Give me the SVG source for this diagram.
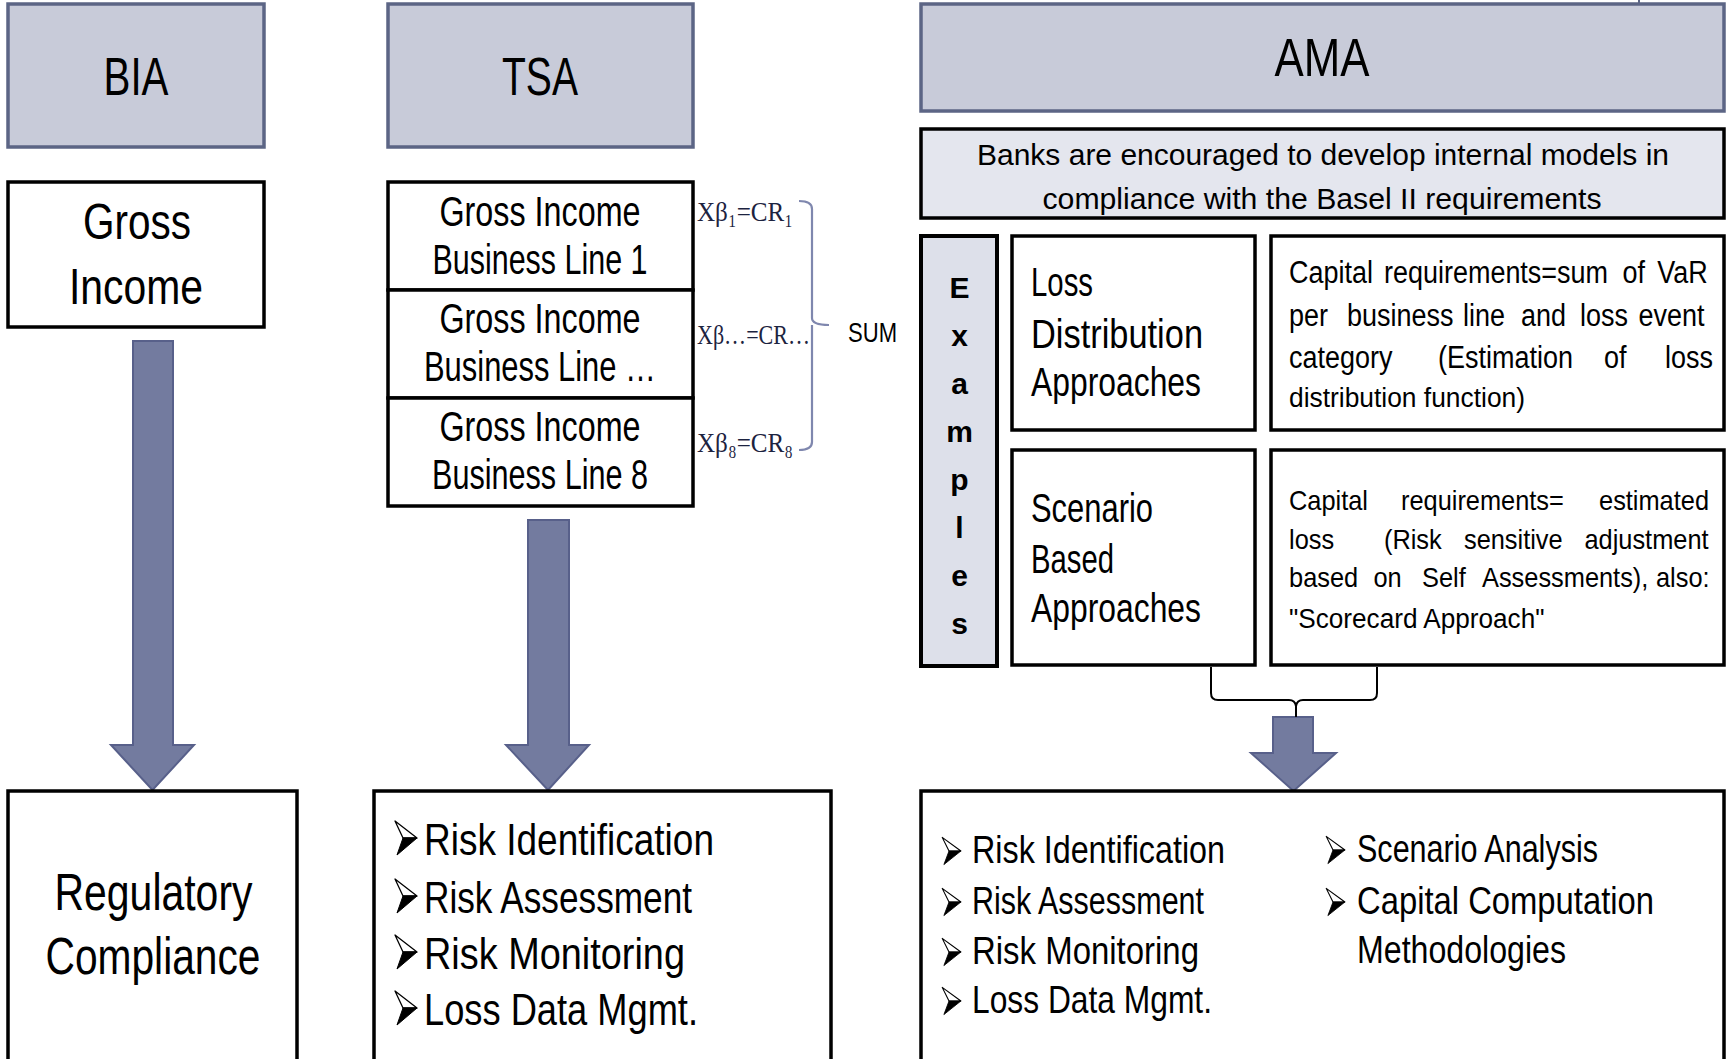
<svg xmlns="http://www.w3.org/2000/svg" xmlns:xlink="http://www.w3.org/1999/xlink" width="1727" height="1059" viewBox="0 0 1727 1059">
<defs>
<style>
.hdr{fill:#c8cbd9;stroke:#5c6585;stroke-width:3.5}
.box{fill:#ffffff;stroke:#000000;stroke-width:3.5}
.lt{fill:#e4e6ee;stroke:#000000;stroke-width:3.5}
.t{font-family:"Liberation Sans",Arial,sans-serif;fill:#000000}
.c{text-anchor:middle}
.ser{font-family:"Liberation Serif","Times New Roman","DejaVu Serif",serif;fill:#1c2340}
.arr{fill:#737b9f;stroke:#58608a;stroke-width:2}
.brace{fill:none;stroke:#7f87ae;stroke-width:2.2}
.brk{fill:none;stroke:#000000;stroke-width:2}
</style>
<g id="bullet">
<path d="M-8,-17 L14,0 L0,0 Z" fill="#ffffff" stroke="#000000" stroke-width="1.3" stroke-linejoin="round"/>
<path d="M0,0 L14,0 L-6,17 Z" fill="#000000" stroke="#000000" stroke-width="1" stroke-linejoin="round"/>
</g>
</defs>
<rect width="1727" height="1059" fill="#ffffff"/>

<g id="connectors">
<polygon class="arr" points="133,341 173,341 173,745 194,745 152.5,790 111,745 133,745"/>
<polygon class="arr" points="528,520 569,520 569,745 589,745 548,790 506,745 528,745"/>
<polygon class="arr" points="1273,717 1313,717 1313,753 1336,753 1293.5,791 1251,753 1273,753"/>
<path class="brace" d="M799,201 Q812,201 812,209 V318 Q812,325 829,325 M812,325 Q812,332 812,336 V442 Q812,450 799,450"/>
<path class="brk" d="M1211,667 V693 Q1211,700 1218,700 H1289 Q1295,700 1296,706 Q1297,700 1303,700 H1370 Q1377,700 1377,693 V667 M1296,706 V717"/>
<line x1="1639" y1="0" x2="1639" y2="4" stroke="#5c6585" stroke-width="2"/>
</g>

<g id="bia">
<rect class="hdr" x="8" y="4" width="256" height="143"/>
<text class="t c" x="136" y="95" font-size="53" textLength="65" lengthAdjust="spacingAndGlyphs">BIA</text>
</g>

<g id="tsa">
<rect class="hdr" x="388" y="4" width="305" height="143"/>
<text class="t c" x="540" y="95" font-size="53" textLength="76" lengthAdjust="spacingAndGlyphs">TSA</text>
</g>

<g id="ama">
<rect class="hdr" x="921" y="4" width="803" height="107"/>
<text class="t c" x="1322" y="76" font-size="54" textLength="95" lengthAdjust="spacingAndGlyphs">AMA</text>
</g>

<g id="gross-income">
<rect class="box" x="8" y="182" width="256" height="145"/>
<text class="t c" x="137" y="239" font-size="50" textLength="108" lengthAdjust="spacingAndGlyphs">Gross</text>
<text class="t c" x="136" y="304" font-size="50" textLength="134" lengthAdjust="spacingAndGlyphs">Income</text>
</g>

<g id="gi-bl1">
<rect class="box" x="388" y="182" width="305" height="108"/>
<text class="t c" x="540" y="226" font-size="42" textLength="201" lengthAdjust="spacingAndGlyphs">Gross Income</text>
<text class="t c" x="540" y="274" font-size="42" textLength="215" lengthAdjust="spacingAndGlyphs">Business Line 1</text>
</g>
<g id="gi-bl2">
<rect class="box" x="388" y="290" width="305" height="108"/>
<text class="t c" x="540" y="333" font-size="42" textLength="201" lengthAdjust="spacingAndGlyphs">Gross Income</text>
<text class="t c" x="540" y="381" font-size="42" textLength="232" lengthAdjust="spacingAndGlyphs">Business Line …</text>
</g>
<g id="gi-bl8">
<rect class="box" x="388" y="398" width="305" height="108"/>
<text class="t c" x="540" y="441" font-size="42" textLength="201" lengthAdjust="spacingAndGlyphs">Gross Income</text>
<text class="t c" x="540" y="489" font-size="42" textLength="216" lengthAdjust="spacingAndGlyphs">Business Line 8</text>
</g>

<g id="formulas">
<text class="ser" x="697" y="221" font-size="28" textLength="96" lengthAdjust="spacingAndGlyphs">Xβ₁=CR₁</text>
<text class="ser" x="697" y="344" font-size="28" textLength="113" lengthAdjust="spacingAndGlyphs">Xβ…=CR…</text>
<text class="ser" x="697" y="452" font-size="28" textLength="96" lengthAdjust="spacingAndGlyphs">Xβ₈=CR₈</text>
<text class="t" x="848" y="342" font-size="28" fill="#27304d" textLength="49" lengthAdjust="spacingAndGlyphs">SUM</text>
</g>

<g id="banks">
<rect class="lt" x="921" y="129" width="803" height="89"/>
<text class="t c" x="1323" y="165" font-size="30" textLength="692" lengthAdjust="spacingAndGlyphs">Banks are encouraged to develop internal models in</text>
<text class="t c" x="1322" y="209" font-size="30" textLength="559" lengthAdjust="spacingAndGlyphs">compliance with the Basel II requirements</text>
</g>

<g id="examples">
<rect x="921" y="236" width="76" height="430" fill="#dde0ea" stroke="#000" stroke-width="4"/>
<text class="t c" font-size="30" font-weight="bold"><tspan x="959.5" y="298">E</tspan><tspan x="959.5" y="346">x</tspan><tspan x="959.5" y="394">a</tspan><tspan x="959.5" y="442">m</tspan><tspan x="959.5" y="490">p</tspan><tspan x="959.5" y="538">l</tspan><tspan x="959.5" y="586">e</tspan><tspan x="959.5" y="634">s</tspan></text>
</g>

<g id="lda">
<rect class="box" x="1012" y="236" width="243" height="194"/>
<text class="t" x="1031" y="296" font-size="40" textLength="62" lengthAdjust="spacingAndGlyphs">Loss</text>
<text class="t" x="1031" y="348" font-size="40" textLength="172" lengthAdjust="spacingAndGlyphs">Distribution</text>
<text class="t" x="1031" y="396" font-size="40" textLength="170" lengthAdjust="spacingAndGlyphs">Approaches</text>
</g>

<g id="lda-desc">
<rect class="box" x="1271" y="236" width="453" height="194"/>
<g transform="scale(0.87,1)">
<text class="t" font-size="31" y="283"><tspan x="1481.6">Capital</tspan> <tspan x="1590.8">requirements=sum</tspan> <tspan x="1864.9">of</tspan> <tspan x="1905">VaR</tspan></text>
<text class="t" font-size="31" y="326"><tspan x="1481.6">per</tspan> <tspan x="1548.3">business</tspan> <tspan x="1681.6">line</tspan> <tspan x="1748.3">and</tspan> <tspan x="1816.1">loss</tspan> <tspan x="1883.3">event</tspan></text>
<text class="t" font-size="31" y="368"><tspan x="1481.6">category</tspan> <tspan x="1652.9">(Estimation</tspan> <tspan x="1843.7">of</tspan> <tspan x="1913.8">loss</tspan></text>
</g>
<text class="t" x="1289" y="407" font-size="27" textLength="236" lengthAdjust="spacingAndGlyphs">distribution function)</text>
</g>

<g id="sba">
<rect class="box" x="1012" y="450" width="243" height="215"/>
<text class="t" x="1031" y="522" font-size="40" textLength="122" lengthAdjust="spacingAndGlyphs">Scenario</text>
<text class="t" x="1031" y="573" font-size="40" textLength="83" lengthAdjust="spacingAndGlyphs">Based</text>
<text class="t" x="1031" y="622" font-size="40" textLength="170" lengthAdjust="spacingAndGlyphs">Approaches</text>
</g>

<g id="sba-desc">
<rect class="box" x="1271" y="450" width="453" height="215"/>
<g transform="scale(0.94,1)">
<text class="t" font-size="27" y="510"><tspan x="1371.3">Capital</tspan> <tspan x="1490.4">requirements=</tspan> <tspan x="1701.1">estimated</tspan></text>
<text class="t" font-size="27" y="549"><tspan x="1371.3">loss</tspan> <tspan x="1472.3">(Risk</tspan> <tspan x="1557.4">sensitive</tspan> <tspan x="1685.6">adjustment</tspan></text>
<text class="t" font-size="27" y="587"><tspan x="1371.3">based</tspan> <tspan x="1461.2">on</tspan> <tspan x="1512.8">Self</tspan> <tspan x="1576.6">Assessments),</tspan> <tspan x="1761.7">also:</tspan></text>
</g>
<text class="t" x="1289" y="628" font-size="27" textLength="255.5" lengthAdjust="spacingAndGlyphs">"Scorecard Approach"</text>
</g>

<g id="regulatory">
<rect class="box" x="8" y="791" width="289" height="275"/>
<text class="t c" x="153.5" y="910" font-size="52" textLength="198" lengthAdjust="spacingAndGlyphs">Regulatory</text>
<text class="t c" x="153" y="974" font-size="52" textLength="215" lengthAdjust="spacingAndGlyphs">Compliance</text>
</g>

<g id="tsa-uses">
<rect class="box" x="374" y="791" width="457" height="275"/>
<use xlink:href="#bullet" href="#bullet" transform="translate(403,838)"/>
<use xlink:href="#bullet" href="#bullet" transform="translate(403,896)"/>
<use xlink:href="#bullet" href="#bullet" transform="translate(403,952)"/>
<use xlink:href="#bullet" href="#bullet" transform="translate(403,1008)"/>
<text class="t" x="424" y="855" font-size="44" textLength="290" lengthAdjust="spacingAndGlyphs">Risk Identification</text>
<text class="t" x="424" y="913" font-size="44" textLength="268" lengthAdjust="spacingAndGlyphs">Risk Assessment</text>
<text class="t" x="424" y="969" font-size="44" textLength="261" lengthAdjust="spacingAndGlyphs">Risk Monitoring</text>
<text class="t" x="424" y="1025" font-size="44" textLength="274" lengthAdjust="spacingAndGlyphs">Loss Data Mgmt.</text>
</g>

<g id="ama-uses">
<rect class="box" x="921" y="791" width="803" height="275"/>
<use xlink:href="#bullet" href="#bullet" transform="translate(949,851) scale(0.85,0.8)"/>
<use xlink:href="#bullet" href="#bullet" transform="translate(949,902) scale(0.85,0.8)"/>
<use xlink:href="#bullet" href="#bullet" transform="translate(949,952) scale(0.85,0.8)"/>
<use xlink:href="#bullet" href="#bullet" transform="translate(949,1001) scale(0.85,0.8)"/>
<text class="t" x="972" y="863" font-size="39" textLength="253" lengthAdjust="spacingAndGlyphs">Risk Identification</text>
<text class="t" x="972" y="914" font-size="39" textLength="232" lengthAdjust="spacingAndGlyphs">Risk Assessment</text>
<text class="t" x="972" y="964" font-size="39" textLength="227" lengthAdjust="spacingAndGlyphs">Risk Monitoring</text>
<text class="t" x="972" y="1013" font-size="39" textLength="240" lengthAdjust="spacingAndGlyphs">Loss Data Mgmt.</text>
<use xlink:href="#bullet" href="#bullet" transform="translate(1333,850) scale(0.85,0.8)"/>
<use xlink:href="#bullet" href="#bullet" transform="translate(1333,902) scale(0.85,0.8)"/>
<text class="t" x="1357" y="862" font-size="39" textLength="241" lengthAdjust="spacingAndGlyphs">Scenario Analysis</text>
<text class="t" x="1357" y="914" font-size="39" textLength="297" lengthAdjust="spacingAndGlyphs">Capital Computation</text>
<text class="t" x="1357" y="963" font-size="39" textLength="209" lengthAdjust="spacingAndGlyphs">Methodologies</text>
</g>
</svg>
